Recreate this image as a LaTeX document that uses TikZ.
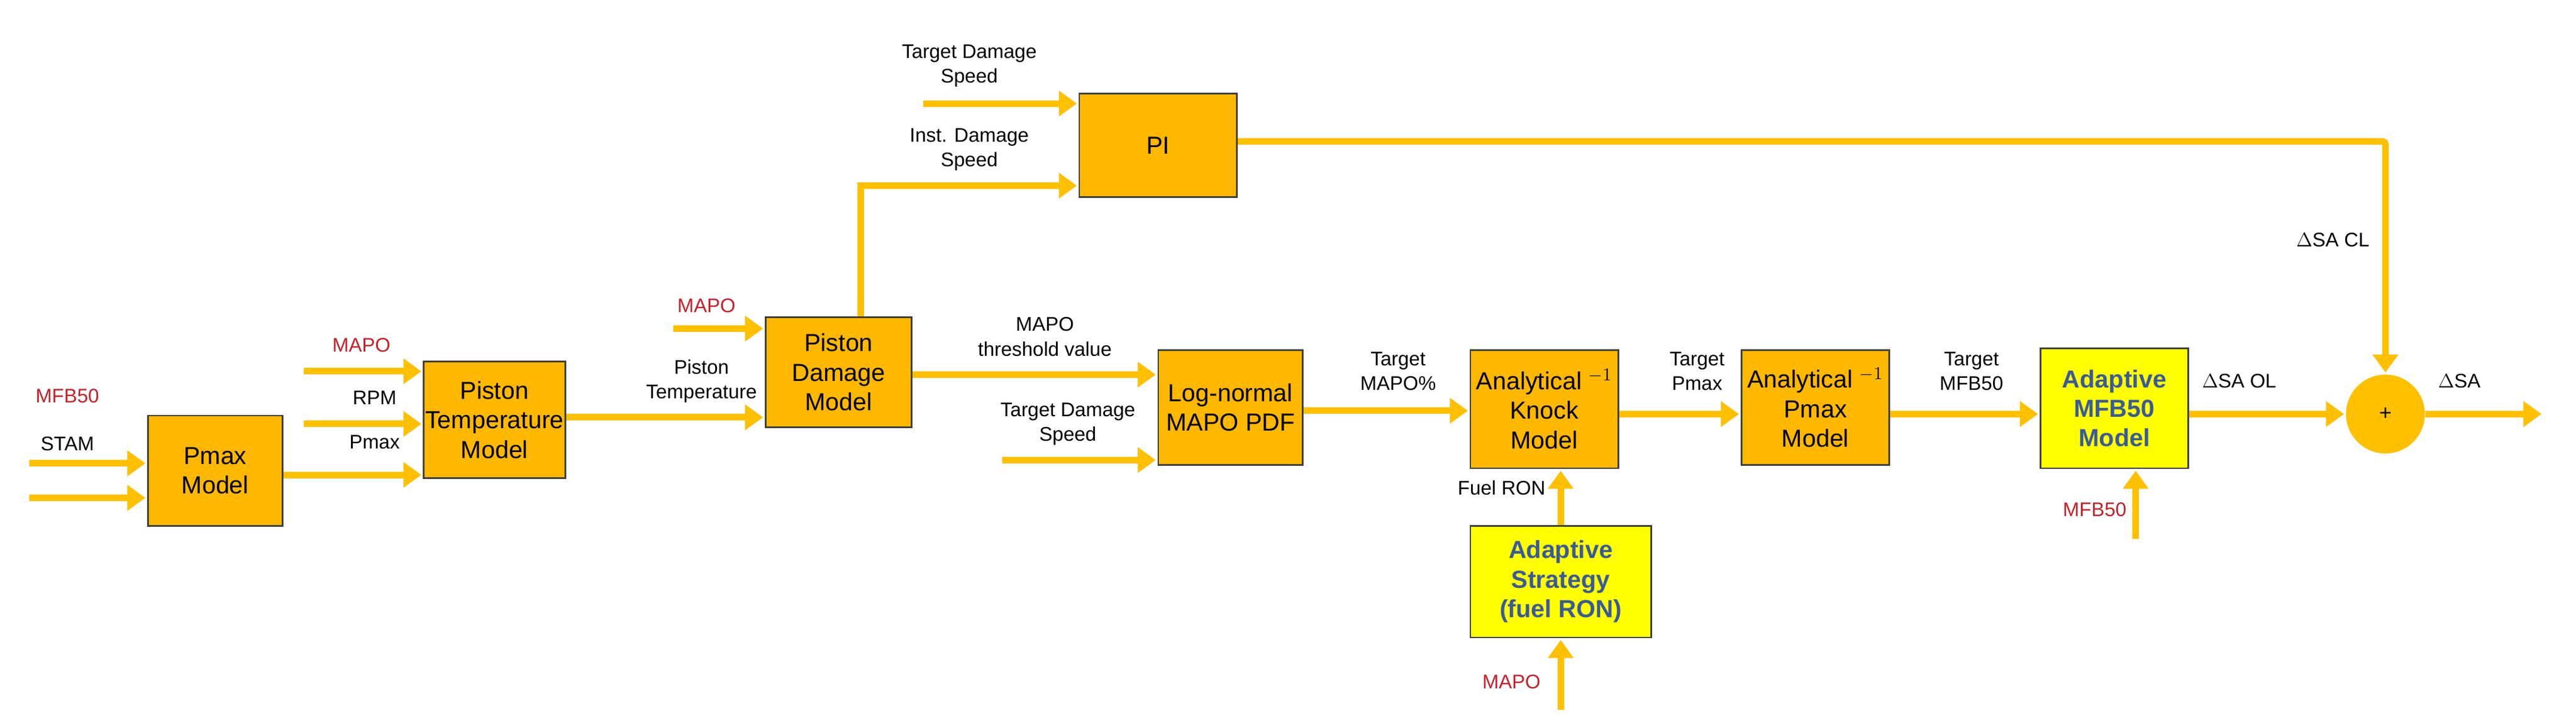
\documentclass[tikz,border=0pt]{standalone}
\usepackage{fontspec}
\setmainfont{Liberation Sans}
\usetikzlibrary{arrows.meta,shapes.geometric}
\definecolor{gold}{HTML}{FFC000}
\definecolor{boxo}{HTML}{FFB800}
\definecolor{yel}{HTML}{FFFF00}
\definecolor{redl}{HTML}{C8202A}
\definecolor{bluet}{HTML}{3A5A9C}
\begin{document}
\begin{tikzpicture}[x=1pt,y=-1pt,
  box/.style={draw=black!75,line width=1pt,fill=boxo,align=center,font=\fontsize{15}{18}\selectfont,inner sep=0pt},
  ybox/.style={box,fill=yel,text=bluet,font=\fontsize{15}{18}\selectfont\bfseries},
  lab/.style={align=center,font=\fontsize{12}{15}\selectfont,inner sep=0pt},
  rlab/.style={lab,text=redl},
  arr/.style={draw=gold,line width=4pt,-{Triangle[length=11pt,width=15pt]},shorten >=1pt},
  ln/.style={draw=gold,line width=4pt}]
\useasboundingbox (0,0) rectangle (1568,440);
% boxes
\node[box,minimum width=82pt,minimum height=67pt] (pmax) at (131,286.5) {Pmax\\Model};
\node[box,minimum width=86pt,minimum height=71pt] (ptm) at (301,255.5) {Piston\\Temperature\\Model};
\node[box,minimum width=89pt,minimum height=67pt] (pdm) at (510.5,226.5) {Piston\\Damage\\Model};
\node[box,minimum width=96pt,minimum height=63pt] (pi) at (705,88.5) {PI};
\node[box,minimum width=88pt,minimum height=70pt] (ln) at (749,248) {Log-normal\\MAPO PDF};
\node[box,minimum width=90pt,minimum height=72pt] (ak) at (940,249) {Analytical $^{-1}$\\Knock\\Model};
\node[box,minimum width=90pt,minimum height=70pt] (ap) at (1105,248) {Analytical $^{-1}$\\Pmax\\Model};
\node[ybox,minimum width=90pt,minimum height=73pt] (am) at (1287,248.5) {Adaptive\\MFB50\\Model};
\node[ybox,minimum width=110pt,minimum height=68pt] (as) at (950,354) {Adaptive\\Strategy\\(fuel RON)};
\node[circle,fill=gold,minimum size=48pt,inner sep=0pt,font=\fontsize{13}{15}\selectfont] (sum) at (1452,252) {+};
% free ends
\coordinate (i1) at (18,282); \coordinate (i2) at (18,303);
\coordinate (i3) at (185,226); \coordinate (i4) at (185,258);
\coordinate (i5) at (410,200);
\coordinate (i6) at (562,63);
\coordinate (i7) at (610,280);
\coordinate (i8) at (950,432);
\coordinate (i9) at (1300,328);
\coordinate (o1) at (1548,252);
\coordinate (c1) at (524,113);
\coordinate (c2) at (1452,86);
% labels
\node[rlab] (l1) at (41,241) {MFB50};
\node[lab] (l2) at (41,270) {STAM};
\node[rlab] (l3) at (220,210) {MAPO};
\node[lab] (l4) at (228,242) {RPM};
\node[lab] (l5) at (228,269) {Pmax};
\node[lab] (l6) at (427,232) {Piston\\Temperature};
\node[rlab] (l7) at (430,186) {MAPO};
\node[lab] (l8) at (590,40) {Target Damage\\Speed};
\node[lab] (l9) at (590,91) {Inst. Damage\\Speed};
\node[lab] (l10) at (636,205) {MAPO\\threshold value};
\node[lab] (l11) at (650,258) {Target Damage\\Speed};
\node[lab] (l12) at (851,226) {Target\\MAPO\%};
\node[lab] (l13) at (1033,226) {Target\\Pmax};
\node[lab] (l14) at (1200,226) {Target\\MFB50};
\node[lab] (l15) at (1363,232) {$\Delta$SA OL};
\node[lab] (l16) at (1497,232) {$\Delta$SA};
\node[lab] (l17) at (1420,146) {$\Delta$SA CL};
\node[lab] (l18) at (914,297) {Fuel RON};
\node[rlab] (l19) at (920,415) {MAPO};
\node[rlab] (l20) at (1275,310) {MFB50};
% connectors
\draw[arr] (i1) -- (pmax.west |- i1);
\draw[arr] (i2) -- (pmax.west |- i2);
\draw[arr] (i3) -- (ptm.west |- i3);
\draw[arr] (i4) -- (ptm.west |- i4);
\draw[arr] (pmax.east |- 0,289) -- (ptm.west |- 0,289);
\draw[arr] (ptm.east |- 0,254) -- (pdm.west |- 0,254);
\draw[arr] (i5) -- (pdm.west |- i5);
\draw[arr] (pdm.north -| c1) -- (c1) -- (pi.west |- c1);
\draw[arr] (i6) -- (pi.west |- i6);
\draw[arr,rounded corners=2pt] (pi.east |- c2) -- (c2) -- (sum.north);
\draw[arr] (pdm.east |- 0,228) -- (ln.west |- 0,228);
\draw[arr] (i7) -- (ln.west |- i7);
\draw[arr] (ln.east |- 0,250) -- (ak.west |- 0,250);
\draw[arr] (ak.east |- 0,252) -- (ap.west |- 0,252);
\draw[arr] (ap.east |- 0,252) -- (am.west |- 0,252);
\draw[arr] (am.east |- 0,252) -- (sum.west);
\draw[arr] (sum.east) -- (o1);
\draw[arr] (as.north) -- (as.north |- ak.south);
\draw[arr] (i8) -- (as.south);
\draw[arr] (i9) -- (i9 |- am.south);
\end{tikzpicture}
\end{document}
